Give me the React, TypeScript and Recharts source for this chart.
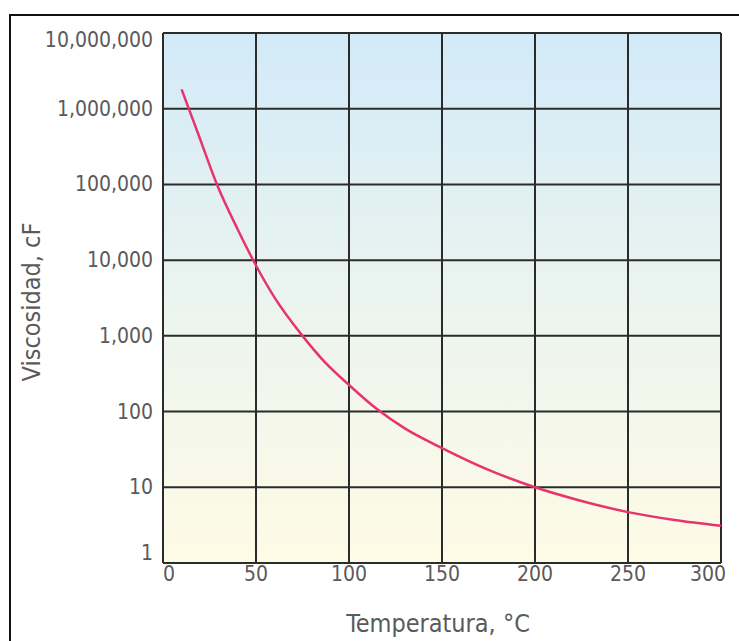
import { CartesianGrid, Line, LineChart, XAxis, YAxis } from "recharts";

// viscosidad vs temperatura
const temperatures = [10, 19, 29, 40, 50, 60, 75, 87, 100, 115, 130, 150, 175, 200, 225, 250, 275, 300];
const viscosities = [1800000, 460000, 100000, 26000, 8500, 3200, 1000, 450, 225, 108, 60, 33, 17, 10, 6.6, 4.7, 3.7, 3.1];

const xTicks = [0, 50, 100, 150, 200, 250, 300];
const yTicks = [1, 10, 100, 1000, 10000, 100000, 1000000, 10000000];

const data = temperatures.map((t, i) => ({ t, v: viscosities[i] }));

const font = "'DejaVu Sans Condensed', 'DejaVu Sans', sans-serif";
const grey = "#5a5a5a";

const YTick = ({ x, y, payload }: any) => {
  let dy = 0;
  if (payload.value === 10000000) dy = 7;
  if (payload.value === 1) dy = -10;
  return (
    <text x={x} y={y + dy} textAnchor="end" dominantBaseline="central"
      fontFamily={font} fontSize={21} fill={grey} style={{ fontStretch: "condensed" }}>
      {payload.value.toLocaleString("en-US")}
    </text>
  );
};

const XTick = ({ x, y, payload }: any) => {
  let dx = 0;
  if (payload.value === 0) dx = 6;
  if (payload.value === 300) dx = -13;
  return (
    <text x={x + dx} y={y + 9} textAnchor="middle" dominantBaseline="central"
      fontFamily={font} fontSize={21} fill={grey} style={{ fontStretch: "condensed" }}>
      {payload.value}
    </text>
  );
};

export default function App() {
  return (
    <div style={{ position: "absolute", left: 0, top: 0, width: 739, height: 641, background: "#fff", overflow: "hidden" }}>
      <div style={{ position: "absolute", left: 9, top: 14, width: 760, height: 660, border: "2px solid #111" }} />
      <LineChart width={739} height={641} data={data}
        margin={{ top: 33, right: 18, bottom: 0, left: 0 }}>
        <defs>
          <linearGradient id="bg" x1="0" y1="0" x2="0" y2="1">
            <stop offset="0%" stopColor="#d2eaf8" />
            <stop offset="50%" stopColor="#ebf4ef" />
            <stop offset="100%" stopColor="#fefbe6" />
          </linearGradient>
        </defs>
        <CartesianGrid fill="url(#bg)" stroke="#2b2b2b" strokeWidth={2} />
        <XAxis dataKey="t" type="number" domain={[0, 300]} ticks={xTicks}
          height={78} tickSize={0} tick={<XTick />}
          axisLine={{ stroke: "#2b2b2b", strokeWidth: 2 }}
          label={{
            content: () => (
              <text x={438} y={623} textAnchor="middle" dominantBaseline="central"
                fontFamily={font} fontSize={25} fill={grey} style={{ fontStretch: "condensed" }}>
                Temperatura, °C
              </text>
            ),
          }} />
        <YAxis dataKey="v" scale="log" domain={[1, 10000000]} ticks={yTicks}
          allowDataOverflow width={163} tickSize={0} tickMargin={10} tick={<YTick />}
          axisLine={{ stroke: "#2b2b2b", strokeWidth: 2 }}
          label={{
            content: () => (
              <text x={31} y={302} transform="rotate(-90 31 302)" textAnchor="middle"
                dominantBaseline="central" fontFamily={font} fontSize={25} fill={grey}
                style={{ fontStretch: "condensed" }}>
                Viscosidad, cF
              </text>
            ),
          }} />
        <Line type="monotone" dataKey="v" stroke="#e8336c" strokeWidth={2.5}
          dot={false} isAnimationActive={false} />
      </LineChart>
    </div>
  );
}
